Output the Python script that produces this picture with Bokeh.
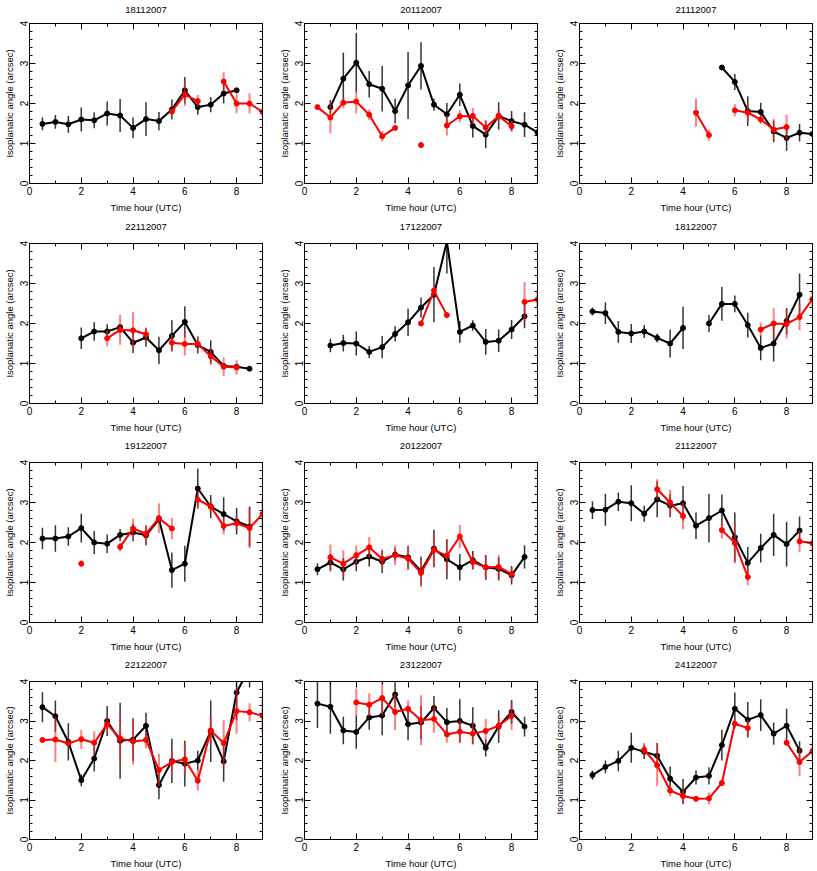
from bokeh.plotting import figure
from bokeh.layouts import gridplot
from bokeh.models import LinearAxis, FixedTicker
from bokeh.embed import file_html
from bokeh.resources import INLINE

N = None
HOURS = [0.5, 1.0, 1.5, 2.0, 2.5, 3.0, 3.5, 4.0, 4.5, 5.0, 5.5, 6.0, 6.5, 7.0, 7.5, 8.0, 8.5, 9.0]
X_TICKS = [0, 2, 4, 6, 8]
X_MINOR = [1, 3, 5, 7]
Y_TICKS = [0, 1, 2, 3, 4]
Y_MINOR = [0.2, 0.4, 0.6, 0.8, 1.2, 1.4, 1.6, 1.8, 2.2, 2.4, 2.6, 2.8, 3.2, 3.4, 3.6, 3.8]

# 18112007
D18112007_BLACK = [1.49, 1.54, 1.48, 1.60, 1.58, 1.75, 1.70, 1.39, 1.61, 1.56, 1.85, 2.33, 1.91, 1.97, 2.25, 2.33, N, N]
D18112007_BLACK_ERR = [0.16, 0.17, 0.21, 0.30, 0.20, 0.30, 0.41, 0.26, 0.42, 0.23, 0.25, 0.33, 0.19, 0.19, 0.25, 0.05, N, N]
D18112007_RED = [N, N, N, N, N, N, N, N, N, N, 1.80, 2.22, 2.06, N, 2.55, 2.00, 2.00, 1.79]
D18112007_RED_ERR = [N, N, N, N, N, N, N, N, N, N, 0.05, 0.29, 0.15, N, 0.23, 0.25, 0.25, 0.09]

# 20112007
D20112007_BLACK = [N, 1.91, 2.62, 3.02, 2.48, 2.37, 1.81, 2.45, 2.94, 1.97, 1.73, 2.22, 1.44, 1.22, 1.69, 1.56, 1.47, 1.28]
D20112007_BLACK_ERR = [N, 0.18, 0.65, 0.74, 0.33, 0.57, 0.31, 0.84, 0.59, 0.15, 0.28, 0.28, 0.29, 0.34, 0.34, 0.25, 0.31, 0.03]
D20112007_RED = [1.91, 1.65, 2.02, 2.05, 1.72, 1.18, 1.39, N, 0.96, N, 1.45, 1.68, 1.69, 1.40, 1.69, 1.43, N, N]
D20112007_RED_ERR = [0.05, 0.40, 0.14, 0.30, 0.13, 0.13, 0.04, N, 0.06, N, 0.25, 0.15, 0.20, 0.19, 0.15, 0.13, N, N]

# 21112007
D21112007_BLACK = [N, N, N, N, N, N, N, N, N, N, 2.90, 2.54, 1.81, 1.79, 1.30, 1.14, 1.27, 1.24]
D21112007_BLACK_ERR = [N, N, N, N, N, N, N, N, N, N, 0.02, 0.20, 0.37, 0.23, 0.27, 0.32, 0.22, 0.03]
D21112007_RED = [N, N, N, N, N, N, N, N, 1.77, 1.21, N, 1.83, 1.77, 1.60, 1.35, 1.41, N, N]
D21112007_RED_ERR = [N, N, N, N, N, N, N, N, 0.35, 0.14, N, 0.15, 0.22, 0.12, 0.26, 0.31, N, N]

# 22112007
D22112007_BLACK = [N, N, N, 1.63, 1.80, 1.80, 1.91, 1.52, 1.65, 1.33, 1.69, 2.04, 1.46, 1.29, 0.94, 0.92, 0.87, N]
D22112007_BLACK_ERR = [N, N, N, 0.27, 0.23, 0.18, 0.08, 0.26, 0.23, 0.34, 0.39, 0.39, 0.21, 0.29, 0.06, 0.05, 0.03, N]
D22112007_RED = [N, N, N, N, N, 1.63, 1.84, 1.83, 1.73, N, 1.52, 1.49, 1.49, 1.18, 0.92, 0.90, N, N]
D22112007_RED_ERR = [N, N, N, N, N, 0.20, 0.37, 0.45, 0.17, N, 0.21, 0.29, 0.19, 0.22, 0.23, 0.18, N, N]

# 17122007
D17122007_BLACK = [N, 1.45, 1.51, 1.50, 1.29, 1.41, 1.74, 2.03, 2.40, 2.72, 4.05, 1.79, 1.95, 1.54, 1.57, 1.85, 2.18, N]
D17122007_BLACK_ERR = [N, 0.17, 0.21, 0.30, 0.15, 0.28, 0.19, 0.34, 0.25, 0.69, 0.80, 0.27, 0.13, 0.32, 0.28, 0.24, 0.30, N]
D17122007_RED = [N, N, N, N, N, N, N, N, 2.00, 2.82, 2.21, N, N, N, N, N, 2.54, 2.60]
D17122007_RED_ERR = [N, N, N, N, N, N, N, N, 0.03, 0.12, 0.03, N, N, N, N, N, 0.50, 0.20]

# 18122007
D18122007_BLACK = [2.30, 2.26, 1.79, 1.75, 1.80, 1.64, 1.50, 1.89, N, 2.00, 2.49, 2.49, 1.96, 1.39, 1.50, 2.06, 2.72, N]
D18122007_BLACK_ERR = [0.10, 0.27, 0.27, 0.24, 0.16, 0.11, 0.35, 0.53, N, 0.21, 0.42, 0.21, 0.31, 0.31, 0.45, 0.33, 0.53, N]
D18122007_RED = [N, N, N, N, N, N, N, N, N, N, N, N, N, 1.85, 2.00, 1.99, 2.16, 2.61]
D18122007_RED_ERR = [N, N, N, N, N, N, N, N, N, N, N, N, N, 0.17, 0.38, 0.36, 0.33, 0.19]

# 19122007
D19122007_BLACK = [2.10, 2.10, 2.15, 2.36, 2.00, 1.97, 2.19, 2.25, 2.18, 2.58, 1.31, 1.47, 3.35, 2.90, 2.71, 2.53, 2.40, N]
D19122007_BLACK_ERR = [0.27, 0.33, 0.23, 0.36, 0.29, 0.23, 0.15, 0.22, 0.25, 0.10, 0.44, 0.45, 0.50, 0.29, 0.42, 0.33, 0.50, N]
D19122007_RED = [N, N, N, 1.47, N, N, 1.89, 2.35, 2.22, 2.61, 2.35, N, 3.07, 2.90, 2.41, 2.48, 2.36, 2.71]
D19122007_RED_ERR = [N, N, N, 0.08, N, N, 0.11, 0.25, 0.20, 0.37, 0.26, N, 0.22, 0.15, 0.21, 0.17, 0.50, 0.39]

# 20122007
D20122007_BLACK = [1.33, 1.50, 1.33, 1.52, 1.65, 1.52, 1.70, 1.63, 1.29, 1.85, 1.58, 1.38, 1.56, 1.38, 1.34, 1.18, 1.64, N]
D20122007_BLACK_ERR = [0.15, 0.22, 0.28, 0.24, 0.25, 0.28, 0.15, 0.29, 0.36, 0.47, 0.50, 0.33, 0.23, 0.31, 0.29, 0.23, 0.29, N]
D20122007_RED = [N, 1.63, 1.47, 1.68, 1.88, 1.59, 1.68, 1.60, 1.24, 1.81, 1.67, 2.15, 1.51, 1.38, 1.39, 1.21, N, N]
D20122007_RED_ERR = [N, 0.32, 0.33, 0.25, 0.26, 0.24, 0.25, 0.29, 0.35, 0.39, 0.40, 0.29, 0.19, 0.31, 0.30, 0.17, N, N]

# 21122007
D21122007_BLACK = [2.81, 2.82, 3.02, 2.98, 2.72, 3.08, 2.92, 2.98, 2.42, 2.61, 2.80, 2.13, 1.49, 1.86, 2.19, 1.96, 2.30, N]
D21122007_BLACK_ERR = [0.22, 0.40, 0.23, 0.45, 0.20, 0.45, 0.29, 0.43, 0.33, 0.61, 0.40, 0.62, 0.40, 0.36, 0.53, 0.56, 0.35, N]
D21122007_RED = [N, N, N, N, N, 3.33, 3.00, 2.66, N, N, 2.31, 1.99, 1.14, N, N, N, 2.03, 1.98]
D21122007_RED_ERR = [N, N, N, N, N, 0.25, 0.32, 0.33, N, N, 0.21, 0.51, 0.21, N, N, N, 0.27, 0.26]

# 22122007
D22122007_BLACK = [3.35, 3.12, 2.47, 1.50, 2.05, 3.00, 2.50, 2.53, 2.88, 1.38, 1.99, 1.92, 2.00, 2.74, 1.98, 3.72, 4.35, N]
D22122007_BLACK_ERR = [0.38, 0.40, 0.47, 0.15, 0.33, 0.38, 0.96, 0.54, 0.33, 0.36, 0.56, 0.58, 0.25, 0.78, 0.52, 0.70, 0.50, N]
D22122007_RED = [2.52, 2.53, 2.43, 2.54, 2.45, 2.92, 2.56, 2.48, 2.52, 1.76, 1.96, 2.03, 1.49, 2.76, 2.44, 3.25, 3.22, 3.13]
D22122007_RED_ERR = [0.04, 0.57, 0.08, 0.24, 0.29, 0.22, 0.61, 0.58, 0.21, 0.41, 0.31, 0.41, 0.25, 0.34, 0.58, 0.57, 0.23, 0.41]

# 23122007
D23122007_BLACK = [3.44, 3.36, 2.76, 2.72, 3.09, 3.14, 3.67, 2.92, 2.96, 3.33, 2.97, 3.00, 2.88, 2.32, 2.86, 3.23, 2.86, N]
D23122007_BLACK_ERR = [0.62, 0.68, 0.35, 0.42, 0.31, 0.50, 0.33, 0.41, 0.42, 0.30, 0.36, 0.55, 0.47, 0.22, 0.41, 0.30, 0.25, N]
D23122007_RED = [N, N, N, 3.47, 3.41, 3.58, 3.23, 3.31, 3.02, 3.05, 2.66, 2.73, 2.68, 2.75, 2.88, 3.13, N, N]
D23122007_RED_ERR = [N, N, N, 0.35, 0.29, 0.43, 0.46, 0.21, 0.63, 0.35, 0.21, 0.28, 0.27, 0.30, 0.23, 0.36, N, N]

# 24122007
D24122007_BLACK = [1.63, 1.84, 1.99, 2.32, 2.22, 2.12, 1.54, 1.21, 1.57, 1.61, 2.39, 3.31, 3.03, 3.15, 2.68, 2.88, 2.25, N]
D24122007_BLACK_ERR = [0.12, 0.16, 0.26, 0.38, 0.18, 0.32, 0.31, 0.32, 0.18, 0.22, 0.39, 0.41, 0.45, 0.40, 0.28, 0.43, 0.24, N]
D24122007_RED = [N, N, N, N, 2.27, 1.88, 1.24, 1.10, 1.03, 1.04, 1.43, 2.93, 2.82, N, N, 2.45, 1.96, 2.24]
D24122007_RED_ERR = [N, N, N, N, 0.17, 0.52, 0.14, 0.20, 0.05, 0.15, 0.05, 0.12, 0.20, N, N, 0.05, 0.35, 0.19]

PANELS = [
    ("18112007", D18112007_BLACK, D18112007_BLACK_ERR, D18112007_RED, D18112007_RED_ERR),
    ("20112007", D20112007_BLACK, D20112007_BLACK_ERR, D20112007_RED, D20112007_RED_ERR),
    ("21112007", D21112007_BLACK, D21112007_BLACK_ERR, D21112007_RED, D21112007_RED_ERR),
    ("22112007", D22112007_BLACK, D22112007_BLACK_ERR, D22112007_RED, D22112007_RED_ERR),
    ("17122007", D17122007_BLACK, D17122007_BLACK_ERR, D17122007_RED, D17122007_RED_ERR),
    ("18122007", D18122007_BLACK, D18122007_BLACK_ERR, D18122007_RED, D18122007_RED_ERR),
    ("19122007", D19122007_BLACK, D19122007_BLACK_ERR, D19122007_RED, D19122007_RED_ERR),
    ("20122007", D20122007_BLACK, D20122007_BLACK_ERR, D20122007_RED, D20122007_RED_ERR),
    ("21122007", D21122007_BLACK, D21122007_BLACK_ERR, D21122007_RED, D21122007_RED_ERR),
    ("22122007", D22122007_BLACK, D22122007_BLACK_ERR, D22122007_RED, D22122007_RED_ERR),
    ("23122007", D23122007_BLACK, D23122007_BLACK_ERR, D23122007_RED, D23122007_RED_ERR),
    ("24122007", D24122007_BLACK, D24122007_BLACK_ERR, D24122007_RED, D24122007_RED_ERR),
]

FONT = "Liberation Sans"
NAN = float("nan")

# layout (per row: top border, bottom border, title gap; per column: right border)
ROW_BORDERS = [(23, 34, 11), (26, 33, 14), (26, 33, 14), (26, 30, 14)]
COL_RIGHT = [13, 13, 5]
FRAME_W, FRAME_H, LEFT = 236, 160, 26


def f(v):
    return NAN if v is None else float(v)


def tick_style(ax, tick_len):
    ax.axis_line_color = "black"
    ax.major_tick_in = tick_len
    ax.major_tick_out = 0
    ax.minor_tick_in = tick_len
    ax.minor_tick_out = 0
    ax.major_tick_line_color = "black"
    ax.minor_tick_line_color = "black"
    ax.major_label_standoff = 0


def make_panel(idx, title, by, be, ry, re):
    row, col = divmod(idx, 3)
    top_b, bot_b, title_gap = ROW_BORDERS[row]
    right_b = COL_RIGHT[col]
    p = figure(width=LEFT + FRAME_W + right_b, height=top_b + FRAME_H + bot_b,
               x_range=(0, 9), y_range=(0, 4),
               output_backend="svg", toolbar_location=None,
               min_border_left=LEFT, min_border_right=right_b,
               min_border_top=top_b, min_border_bottom=bot_b)
    p.grid.grid_line_color = None
    p.outline_line_color = "black"
    p.outline_line_alpha = 1.0

    for ax, ticks, minor in ((p.xaxis[0], X_TICKS, X_MINOR), (p.yaxis[0], Y_TICKS, Y_MINOR)):
        ax.ticker = FixedTicker(ticks=ticks, minor_ticks=minor)
        tick_style(ax, 6)
        ax.minor_tick_in = 3
        ax.major_label_text_font = FONT
        ax.axis_label_text_font = FONT
        ax.axis_label_text_font_style = "normal"
        ax.major_label_text_font_size = "10px"
        ax.axis_label_text_font_size = "9.5px"
        ax.major_label_text_color = "black"
        ax.axis_label_text_color = "black"
    p.xaxis[0].major_label_standoff = 3
    p.xaxis[0].axis_label_standoff = 4
    p.yaxis[0].major_label_standoff = 2
    p.yaxis[0].axis_label_standoff = 2
    p.xaxis[0].axis_label = "Time hour (UTC)"
    p.yaxis[0].axis_label = "Isoplanatic angle (arcsec)"
    p.yaxis[0].major_label_orientation = "vertical"

    # mirrored, unlabeled tick axes on top and right (ticks pointing inwards)
    for pos, ln in ((X_TICKS, 6), (X_MINOR, 3)):
        ax = LinearAxis(ticker=FixedTicker(ticks=[], minor_ticks=pos))
        tick_style(ax, ln)
        p.add_layout(ax, "above")
    for pos, ln in ((Y_TICKS, 6), (Y_MINOR, 3)):
        ax = LinearAxis(ticker=FixedTicker(ticks=[], minor_ticks=pos))
        tick_style(ax, ln)
        p.add_layout(ax, "right")

    # panel title: label of an invisible axis above the frame
    t_ax = LinearAxis(ticker=FixedTicker(ticks=[], minor_ticks=[]))
    t_ax.axis_line_color = None
    t_ax.major_tick_line_color = None
    t_ax.minor_tick_line_color = None
    t_ax.major_tick_in = 0
    t_ax.major_tick_out = 0
    t_ax.minor_tick_in = 0
    t_ax.minor_tick_out = 0
    t_ax.major_label_standoff = 0
    t_ax.axis_label = title
    t_ax.axis_label_standoff = title_gap
    t_ax.axis_label_text_font = FONT
    t_ax.axis_label_text_font_style = "normal"
    t_ax.axis_label_text_font_size = "9.5px"
    t_ax.axis_label_text_color = "black"
    p.add_layout(t_ax, "above")

    for ys, es, colr, ecol, ealpha, ewidth in (
        (by, be, "black", "black", 0.8, 1.5),
        (ry, re, "#ff0000", "#ff2a2a", 0.6, 2.0),
    ):
        y = [f(v) for v in ys]
        e = [f(v) for v in es]
        lo = [a - b for a, b in zip(y, e)]
        hi = [a + b for a, b in zip(y, e)]
        p.segment(x0=HOURS, y0=lo, x1=HOURS, y1=hi, line_color=ecol,
                  line_alpha=ealpha, line_width=ewidth)
        p.line(HOURS, y, line_color=colr, line_width=2)
        p.scatter(HOURS, y, marker="circle", size=5, fill_color=colr, line_color=colr)
    return p


figs = [make_panel(i, *panel) for i, panel in enumerate(PANELS)]
grid = gridplot(figs, ncols=3, toolbar_location=None)

open("out.html", "w").write(file_html(grid, INLINE))
